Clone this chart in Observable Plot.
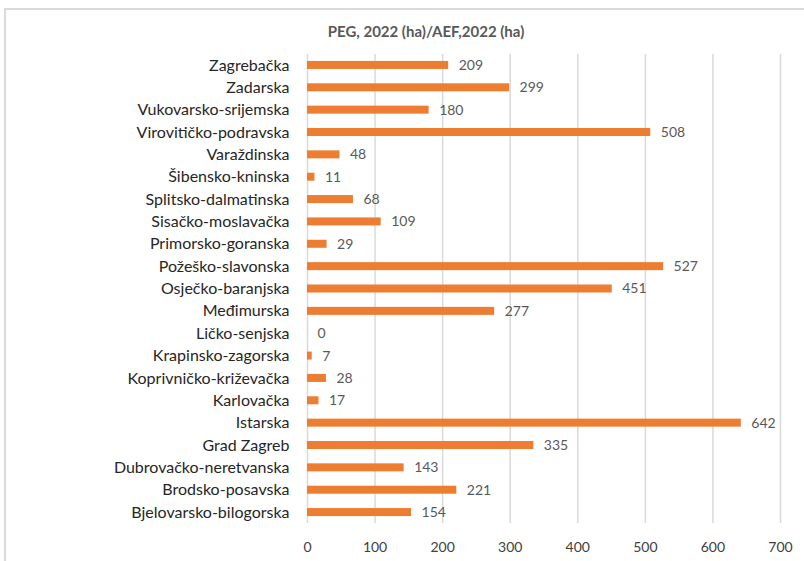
<!DOCTYPE html>
<html>
<head>
<meta charset="utf-8">
<script src="https://cdn.jsdelivr.net/npm/d3@7"></script>
<script src="https://cdn.jsdelivr.net/npm/@observablehq/plot@0.6"></script>
<style>
  html, body { margin: 0; padding: 0; background: #fff; overflow: hidden; }
  #frame { position: absolute; left: 4px; top: 8px; width: 900px; height: 700px; border: 2px solid #d9d9d9; box-sizing: border-box; }
  #title { position: absolute; left: 0; top: 22px; width: 852px; text-align: center; font-family: Lato, sans-serif; font-weight: bold; font-size: 15px; color: #595959; }
  #chart { position: absolute; left: 0; top: 0; }
</style>
</head>
<body>
<div id="frame"></div>
<div id="title">PEG, 2022 (ha)/AEF,2022 (ha)</div>
<div id="chart"></div>
<script>
const categories = ["Zagrebačka","Zadarska","Vukovarsko-srijemska","Virovitičko-podravska","Varaždinska","Šibensko-kninska","Splitsko-dalmatinska","Sisačko-moslavačka","Primorsko-goranska","Požeško-slavonska","Osječko-baranjska","Međimurska","Ličko-senjska","Krapinsko-zagorska","Koprivničko-križevačka","Karlovačka","Istarska","Grad Zagreb","Dubrovačko-neretvanska","Brodsko-posavska","Bjelovarsko-bilogorska"];
const values = [209,299,180,508,48,11,68,109,29,527,451,277,0,7,28,17,642,335,143,221,154];
const xTicks = [0,100,200,300,400,500,600,700];

const data = categories.map((c, i) => ({name: c, value: values[i]}));

const plot = Plot.plot({
  width: 804,
  height: 561,
  marginLeft: 307,
  marginRight: 24,
  marginTop: 54,
  marginBottom: 38,
  style: {fontFamily: "Lato, sans-serif", fontSize: "14px", background: "transparent"},
  x: {domain: [0, 700], ticks: xTicks},
  y: {domain: categories, paddingInner: 0.642, paddingOuter: 0.31, round: false},
  marks: [
    Plot.ruleX(xTicks, {stroke: "#d9d9d9", strokeWidth: 1.5}),
    Plot.barX(data, {x: "value", y: "name", fill: "#ED7D31"}),
    Plot.text(data, {x: "value", y: "name", text: d => String(d.value), dx: 10, textAnchor: "start", fill: "#595959", fontSize: 14}),
    Plot.axisY({tickSize: 0, tickPadding: 18, label: null, fontSize: 16, color: "#262626"}),
    Plot.axisX({ticks: xTicks, tickSize: 0, tickPadding: 19, label: null, fontSize: 14, color: "#404040"})
  ]
});
document.getElementById("chart").appendChild(plot);
</script>
</body>
</html>
